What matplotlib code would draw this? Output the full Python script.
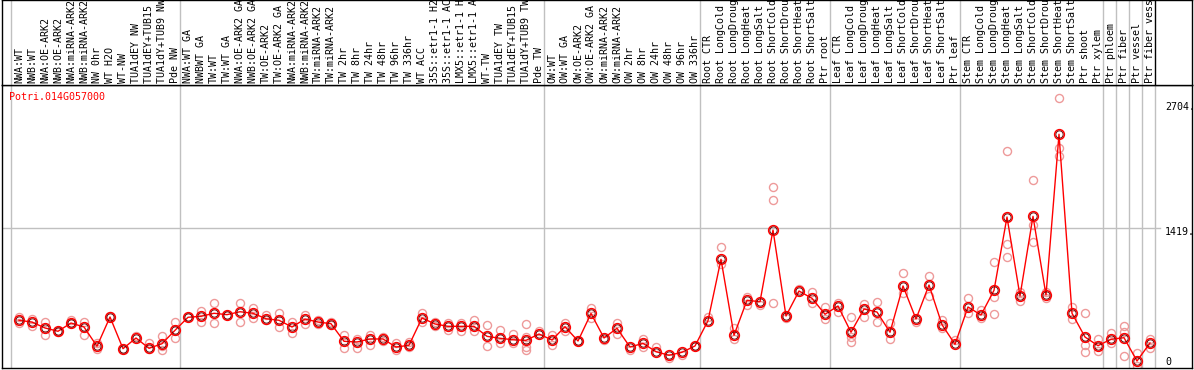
"""Expression profile of Potri.014G057000 across samples."""

import matplotlib
matplotlib.use("Agg")
import matplotlib.pyplot as plt

GENE = "Potri.014G057000"

samples = [
    "NWA:WT", "NWB:WT", "NWA:OE-ARK2", "NWB:OE-ARK2", "NWA:miRNA-ARK2",
    "NWB:miRNA-ARK2", "NW 0hr", "WT H2O", "WT-NW", "TUA1dEY NW",
    "TUA1dEY+TUB15 NW", "TUA1dY+TUB9 NW", "Pde NW",
    "NWA:WT GA", "NWBWT GA", "TW:WT", "TW:WT GA", "NWA:OE-ARK2 GA",
    "NWB:OE-ARK2 GA", "TW:OE-ARK2", "TW:OE-ARK2 GA", "NWA:miRNA-ARK2",
    "NWB:miRNA-ARK2", "TW:miRNA-ARK2", "TW:miRNA-ARK2", "TW 2hr", "TW 8hr",
    "TW 24hr", "TW 48hr", "TW 96hr", "TW 336hr", "WT ACC", "35S::etr1-1 H2O",
    "35S::etr1-1 ACC", "LMX5::etr1-1 H2O", "LMX5::etr1-1 ACC", "WT-TW",
    "TUA1dEY TW", "TUA1dEY+TUB15 TW", "TUA1dY+TUB9 TW", "Pde TW",
    "OW:WT", "OW:WT GA", "OW:OE-ARK2", "OW:OE-ARK2 GA", "OW:miRNA-ARK2",
    "OW:miRNA-ARK2", "OW 2hr", "OW 8hr", "OW 24hr", "OW 48hr", "OW 96hr",
    "OW 336hr",
    "Root CTR", "Root LongCold", "Root LongDrought", "Root LongHeat",
    "Root LongSalt", "Root ShortCold", "Root ShortDrought", "Root ShortHeat",
    "Root ShortSalt", "Ptr root",
    "Leaf CTR", "Leaf LongCold", "Leaf LongDrought", "Leaf LongHeat",
    "Leaf LongSalt", "Leaf ShortCold", "Leaf ShortDrought", "Leaf ShortHeat",
    "Leaf ShortSalt", "Ptr leaf",
    "Stem CTR", "Stem LongCold", "Stem LongDrought", "Stem LongHeat",
    "Stem LongSalt", "Stem ShortCold", "Stem ShortDrought", "Stem ShortHeat",
    "Stem ShortSalt", "Ptr shoot", "Ptr xylem",
    "Ptr phloem", "Ptr fiber", "Ptr vessel", "Ptr fiber vessel",
]

# index of the first sample of every group (last entry closes the table)
group_starts = [0, 13, 41, 53, 63, 73, 84, 85, 86, 87, 88]

means = [
    470, 452, 391, 357, 442, 401, 203, 504, 178, 288, 182, 229, 367,
    501, 511, 542, 528, 558, 542, 486, 470, 401, 483, 452, 435, 254, 247,
    278, 278, 195, 213, 494, 432, 408, 408, 408, 305, 285, 270, 264, 329,
    267, 404, 257, 540, 288, 388, 195, 233, 147, 110, 141, 206,
    466, 1097, 316, 676, 661, 1398, 514, 771, 696, 532,
    617, 347, 586, 555, 347, 823, 483, 833, 425, 223,
    607, 524, 778, 1532, 720, 1539, 730, 2383, 542, 298, 209,
    275, 291, 51, 237,
]

replicates = [
    [504, 442], [483, 411], [449, 319], [352, 362], [476, 442], [449, 319],
    [240, 175], [511], [178], [312], [233, 175], [308, 209, 165], [456, 285],
    [501], [566, 456], [645, 439], [528], [651, 456], [600, 490], [521, 473],
    [542, 404], [456, 336], [524, 429], [473, 432], [452, 422], [319, 182],
    [275, 182], [319, 216], [298, 257], [233, 165], [250, 195], [542, 452],
    [452, 411], [439, 370], [439, 360], [473, 360], [422, 206], [370, 237],
    [329, 233], [432, 301, 198, 165], [357], [319, 216], [439, 360], [257],
    [596, 494], [267], [445, 326], [165], [275, 192], [198], [79], [113],
    [206],
    [507], [1221, 1046], [388, 275], [713, 627], [627], [1838, 1707, 645],
    [490], [789], [758, 651], [604, 483],
    [651, 552], [507, 295, 244], [634, 507], [658, 449], [439, 275],
    [953, 748], [452], [929, 720], [473, 388], [267],
    [696, 542], [576, 490], [1066, 713, 532], [2211, 1251, 1118], [764, 671],
    [1913, 1450, 1272], [764, 696], [2753, 2239, 2159], [610, 480],
    [542, 216, 141], [278, 157],
    [336, 233], [411, 353, 103], [137, 0], [275, 182],
]

scale_ticks = [2704, 1419]

W, H = 1194, 370
FONT = "DejaVu Sans Mono"
GRAY = "#C0C0C0"

fig = plt.figure(figsize=(W / 100, H / 100), dpi=100)

left, right = 2 / W, 1192 / W
split = (H - 85) / H
ax = fig.add_axes([left, 2 / H, right - left, split - 2 / H])
head = fig.add_axes([left, split, right - left, 1 - split])

# column i sits at pixel 19 + 13 i; value 0 at pixel 366, 1419 at 228
px_per_unit = 138 / 1419
xlim = ((2 - 19) / 13, (1192 - 19) / 13)
ax.set_xlim(xlim)
head.set_xlim(xlim)
ax.set_ylim((366 - 368) / px_per_unit, (366 - 85) / px_per_unit)
head.set_ylim(0, 1)

for a in (ax, head):
    a.set_xticks([])
    a.set_yticks([])
    for sp in a.spines.values():
        sp.set_color("black")
        sp.set_linewidth(1)

for k, start in enumerate(group_starts):
    xpos = start - 0.615
    ax.axvline(xpos, color=GRAY, lw=1, zorder=1)
    head.axvline(xpos, color="black" if k == len(group_starts) - 1 else GRAY,
                 lw=1, zorder=1)

ax.axhline(1419, xmin=0, xmax=(1160 - 2) / 1190, color=GRAY, lw=1, zorder=1)

xs = list(range(len(means)))
rep_x = [i for i, reps in enumerate(replicates) for _ in reps]
rep_y = [v for reps in replicates for v in reps]

ax.plot(rep_x, rep_y, "o", ms=5.8, mfc="none", mec="#EE9A9A", mew=1.0, zorder=2)
ax.plot(xs, means, "-", color="red", lw=1, zorder=3)
ax.plot(xs, means, "o", ms=7.0, mfc="none", mec="red", mew=1.1, zorder=4)
ax.plot(xs, means, "o", ms=5.2, mfc="none", mec="#5a0000", mew=0.6, zorder=5)

for i, name in enumerate(samples):
    head.text(i, 2 / 85, name, rotation=90, ha="center", va="bottom",
              family=FONT, fontsize=7.2, color="black", clip_on=True)

ax.text(7 / 1190, 1 - 12 / 283, GENE, transform=ax.transAxes, ha="left",
        va="center", family=FONT, fontsize=7.2, color="red")

label_x = (1165 - 19) / 13
for v in scale_ticks:
    ax.annotate(f"{v}.", xy=(label_x, v), xytext=(0, -3), textcoords="offset points",
                ha="left", va="center", family=FONT, fontsize=7.2)
ax.annotate("0", xy=(label_x, 0), xytext=(0, 3), textcoords="offset points",
            ha="left", va="center", family=FONT, fontsize=7.2)

fig.savefig("out.png", dpi=100)
